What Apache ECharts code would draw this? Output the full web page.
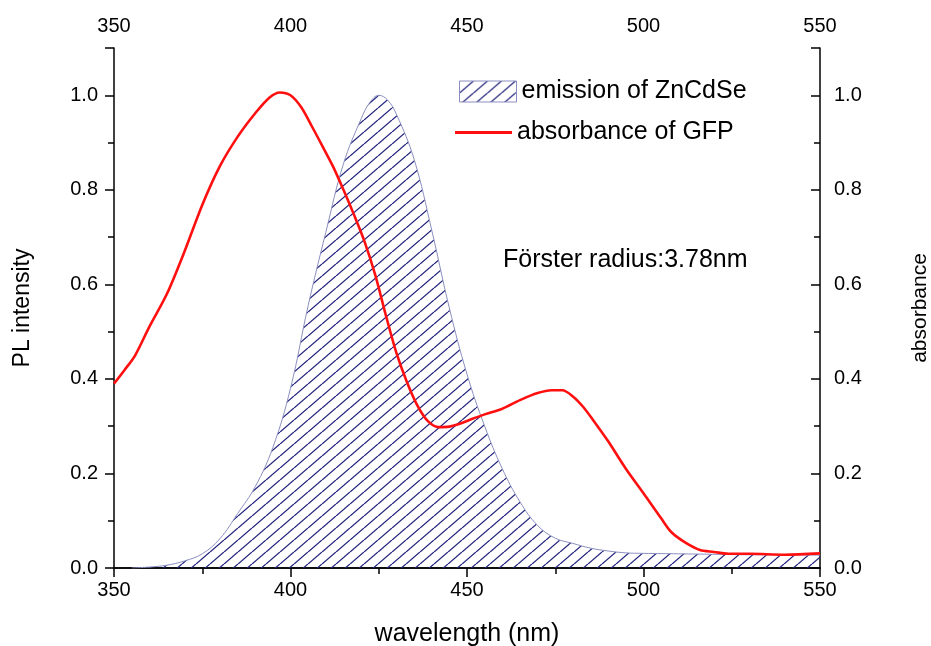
<!DOCTYPE html>
<html>
<head>
<meta charset="utf-8">
<script src="https://cdn.jsdelivr.net/npm/echarts@6/dist/echarts.min.js"></script>
<style>html,body{margin:0;padding:0;background:#fff;overflow:hidden}#c{width:931px;height:646px}</style>
</head>
<body>
<div id="c"></div>
<script>
// ---- data ----
const emissionWl = [355, 360, 365, 370, 375, 380, 385, 390, 395, 400, 405, 410, 415, 420, 422.5, 425, 427.5, 430, 435, 440, 445, 450, 455, 460, 465, 470, 475, 480, 485, 490, 495, 500, 510, 520, 530, 540, 550];
const emissionVal = [0.0, 0.002, 0.006, 0.015, 0.03, 0.062, 0.115, 0.172, 0.255, 0.38, 0.555, 0.71, 0.855, 0.95, 0.985, 1.0, 0.99, 0.96, 0.865, 0.715, 0.55, 0.41, 0.3, 0.21, 0.14, 0.09, 0.063, 0.052, 0.042, 0.036, 0.032, 0.031, 0.03, 0.029, 0.028, 0.028, 0.027];
const absWl = [350, 353, 356, 360, 365, 370, 375, 380, 385, 390, 394, 397, 400, 403, 406, 409, 412, 415, 418, 421, 424, 427, 430, 433, 436, 439, 442, 445, 448, 451, 455, 460, 465, 470, 474, 477, 480, 483, 486, 490, 495, 500, 505, 508, 512, 516, 520, 524, 530, 540, 550];
const absVal = [0.39, 0.419, 0.45, 0.51, 0.58, 0.67, 0.768, 0.85, 0.912, 0.962, 0.995, 1.006, 1.0, 0.975, 0.935, 0.893, 0.85, 0.8, 0.747, 0.69, 0.62, 0.535, 0.455, 0.393, 0.343, 0.31, 0.298, 0.299, 0.305, 0.314, 0.325, 0.337, 0.355, 0.37, 0.376, 0.376, 0.363, 0.34, 0.31, 0.268, 0.21, 0.158, 0.105, 0.075, 0.053, 0.038, 0.034, 0.03, 0.03, 0.028, 0.031];
const xTicks = [350, 400, 450, 500, 550];
const yTicks = [0.0, 0.2, 0.4, 0.6, 0.8, 1.0];
const seriesNames = ['emission of ZnCdSe', 'absorbance of GFP'];
const annotation = 'Förster radius:3.78nm';

// ---- styles ----
function hatch(p, h, color, lw) {
  const c = document.createElement('canvas');
  c.width = p; c.height = h;
  const ctx = c.getContext('2d');
  ctx.strokeStyle = color; ctx.lineWidth = lw;
  for (const dx of [-p, 0, p]) {
    ctx.beginPath(); ctx.moveTo(dx, h); ctx.lineTo(dx + p, 0); ctx.stroke();
  }
  return c;
}
const pattern = { image: hatch(14, 12, '#23237c', 1.3), repeat: 'repeat' };
const FONT = 'Liberation Sans, Arial, sans-serif';
const fmtY = v => yTicks.some(t => Math.abs(t - v) < 1e-6) ? v.toFixed(1) : '';
const fmtX = v => xTicks.indexOf(Math.round(v)) >= 0 ? String(Math.round(v)) : '';

const axisLine = { show: true, lineStyle: { color: '#000', width: 1.5 } };
function xAxis(pos, inside) {
  return {
    type: 'value', position: pos, min: 350, max: 550, interval: 50,
    axisLine, splitLine: { show: false },
    axisTick: { show: true, inside, length: 9, lineStyle: { color: '#000', width: 1.5 } },
    minorTick: { show: true, splitNumber: 2, length: 6, lineStyle: { color: '#000', width: 1.5 } },
    axisLabel: { color: '#000', fontSize: 20, fontFamily: FONT, margin: 12, formatter: fmtX }
  };
}
function yAxis(pos, inside) {
  return {
    type: 'value', position: pos, min: 0, max: 1.1, interval: 0.2,
    axisLine, splitLine: { show: false },
    axisTick: { show: true, inside, length: 9, lineStyle: { color: '#000', width: 1.5 } },
    minorTick: { show: true, splitNumber: 2, length: 6, lineStyle: { color: '#000', width: 1.5 } },
    axisLabel: { color: '#000', fontSize: 20, fontFamily: FONT, margin: pos === 'left' ? 16 : 14, formatter: fmtY }
  };
}

const chart = echarts.init(document.getElementById('c'), null, { renderer: 'canvas', width: 931, height: 646 });
const xb = xAxis('bottom', false);
xb.name = 'wavelength (nm)'; xb.nameLocation = 'middle'; xb.nameGap = 54;
xb.nameTextStyle = { color: '#000', fontSize: 25, fontFamily: FONT };
const xt = xAxis('top', true);
const yl = yAxis('left', false);
yl.name = 'PL intensity'; yl.nameLocation = 'middle'; yl.nameGap = 80;
yl.nameTextStyle = { color: '#000', fontSize: 23, fontFamily: FONT };
const yr = yAxis('right', true);
yr.name = 'absorbance'; yr.nameLocation = 'middle'; yr.nameGap = 90; yr.nameRotate = 90;
yr.nameTextStyle = { color: '#000', fontSize: 21, fontFamily: FONT };

chart.setOption({
  animation: false,
  backgroundColor: '#fff',
  grid: { left: 114, top: 48, width: 706, height: 520, containLabel: false, outerBoundsMode: 'none' },
  xAxis: [xb, xt],
  yAxis: [yl, yr],
  legend: [{
    orient: 'vertical', left: 459, top: 79, padding: 0, itemWidth: 57, itemHeight: 21,
    textStyle: { color: '#000', fontSize: 25, fontFamily: FONT },
    data: [{ name: seriesNames[0], icon: 'rect', itemStyle: { color: pattern, borderColor: '#8a8fc0', borderWidth: 1 } }]
  }, {
    orient: 'vertical', left: 455, top: 120, padding: 0, itemWidth: 57, itemHeight: 3,
    textStyle: { color: '#000', fontSize: 25, fontFamily: FONT },
    data: [{ name: seriesNames[1], icon: 'rect', itemStyle: { color: '#ff1010', borderWidth: 0 } }]
  }],
  graphic: [{
    type: 'text', left: 503, top: 248,
    style: { text: annotation, fill: '#000', font: '25px ' + FONT }
  }],
  series: [
    {
      name: seriesNames[0], type: 'line', xAxisIndex: 0, yAxisIndex: 0,
      data: emissionWl.map((w, i) => [w, emissionVal[i]]),
      showSymbol: false, symbol: 'none', smooth: 0.4,
      lineStyle: { color: '#8a8fc0', width: 1 },
      itemStyle: { color: '#8a8fc0' },
      areaStyle: { color: pattern, opacity: 1 },
      z: 2
    },
    {
      name: seriesNames[1], type: 'line', xAxisIndex: 0, yAxisIndex: 1,
      data: absWl.map((w, i) => [w, absVal[i]]),
      showSymbol: false, symbol: 'none', smooth: 0.3,
      lineStyle: { color: '#ff1010', width: 2.6 },
      itemStyle: { color: '#ff1010' },
      z: 3
    }
  ]
});
</script>
</body>
</html>
